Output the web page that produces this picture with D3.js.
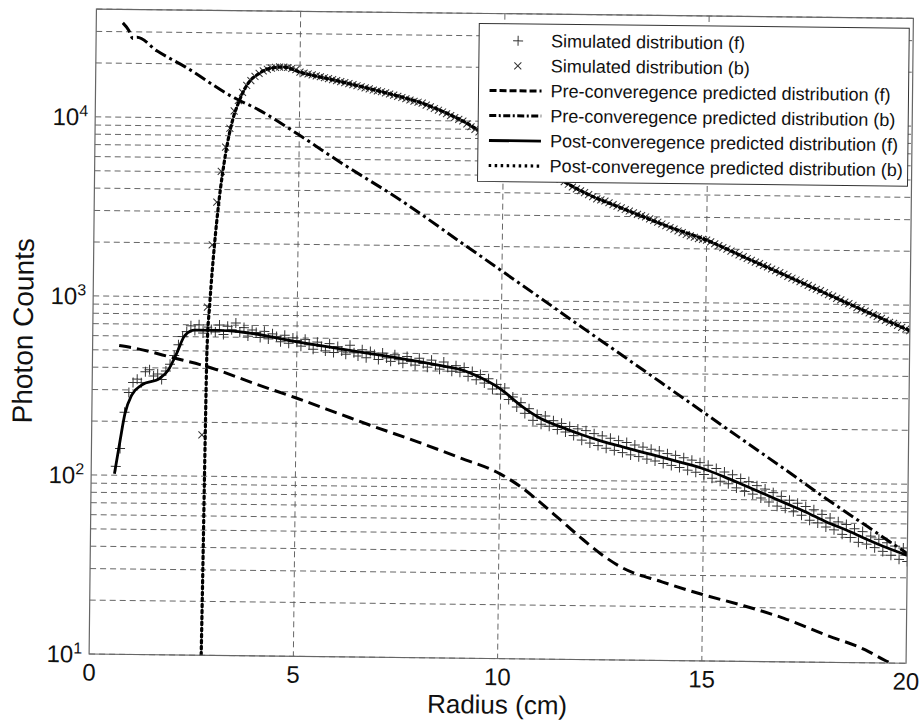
<!DOCTYPE html>
<html>
<head>
<meta charset="utf-8">
<style>
  *{margin:0;padding:0;box-sizing:border-box}
  body{background:#fff;width:923px;height:726px;overflow:hidden}
  svg{display:block}
  text{font-family:"Liberation Sans",Arial,Helvetica,sans-serif;fill:#111}
</style>
</head>
<body>
<svg id="chart"></svg>
<script src="https://cdn.jsdelivr.net/npm/d3@7/dist/d3.min.js"></script>
<script>
// ---- data ----------------------------------------------------------------
// simulated histograms, 0.1 cm bins
const BIN = 0.1;
const simFStart = 0.6;
const simF = [
  112,141,225,290,330,345,330,380,390,360,370,345,385,420,470,540,600,640,690,650,
  700,630,680,660,640,700,620,690,660,720,640,680,610,660,640,600,650,590,630,610,
  570,620,560,600,580,540,590,550,520,570,540,510,560,500,540,510,490,550,500,480,
  520,470,510,490,460,500,470,450,490,460,440,480,450,430,470,440,420,460,430,410,
  450,420,400,430,
  395,420,375,400,360,385,345,365,320,340,300,325,280,290,255,270,235,250,215,232,
  205,228,200,215,192,208,186,200,178,194,
  168,190,162,183,157,178,152,173,148,168,144,164,140,159,137,155,133,151,130,148,
  126,143,123,140,120,136,116,132,113,128,110,124,105,119,101,114,98,110,93,105,
  89,101,86,96,82,92,78,88,74,84,72,80,69,77,66,74,62,71,60,67,
  57,64,55,61,52,59,50,56,47,54,46,51,44,49,42,47,40,45,38,44,
  37
];
const simBStart = 2.7;
const simB = [
  170,880,1960,3400,5050,6900,8800,11000,12600,14000,15300,16300,17200,17900,18500,18900,19200,19400,19500,19500,
  19400,19200,18900,18300,18100,17900,17700,17500,17300,17100,16900,16700,16500,16300,16100,15900,15700,15500,15300,15100,
  14900,14700,14550,14400,14200,14000,13800,13600,13400,13200,13000,12800,12650,12500,12200,11950,11700,11450,11200,10950,
  10700,10450,10200,10000,9650,9300,9000,8700,8450,8200,7950,7750,7500,7300,7100,6900,6700,6500,6350,6150,
  6000,5800,5600,5400,5250,5100,4950,4800,4650,4500,4350,4250,4150,4050,3950,3850,3750,3700,3650,3570,
  3490,3420,3350,3280,3220,3150,3090,3040,2990,2920,2860,2800,2740,2680,2620,2570,2510,2460,2400,2360,
  2320,2280,2260,2240,2190,2140,2090,2040,2000,1950,1910,1860,1820,1780,1740,1700,1670,1630,1600,1560,
  1530,1490,1460,1420,1390,1360,1330,1300,1270,1240,1210,1190,1160,1130,1110,1080,1060,1030,1010,990,
  960,940,920,900,880,860,840,820,800,790,770,750,735,720
];

// predicted distributions, [radius, counts]
const preF = [
  [0.65,530],[1,515],[2,455],[2.8,410],[4,330],[5,277],[6,230],[6.8,198],[8,160],[9,132],
  [10,108],[10.5,92],[11,75],[11.5,60],[12,48],[12.5,39],[13,33],[14,27.5],[15,23.5],[16,20.5],
  [17,17.5],[18,14.3],[19,11.8],[19.5,10.3],[20,9.2]
];
const preB = [
  [0.65,33600],[0.8,30500],[0.9,27500],[1.0,28000],[1.5,23500],[2.2,19200],[3.35,13200],[4,11200],
  [5,8150],[6,5800],[7.5,3580],[9,2090],[10,1460],[11,1020],[12,710],[13,497],[14,347],[15,242],
  [16,169],[17,118],[18,82],[19,58],[20,41]
];
const postF = [
  [0.57,102],[0.7,157],[0.81,221],[0.97,281],[1.21,320],[1.66,351],[1.86,390],[2.06,484],[2.26,612],
  [2.5,654],[3.1,654],[3.6,644],[5.0,571],[6.14,522],[6.8,496],[7.5,470],[8.5,430],[9.0,410],[9.5,370],
  [10.0,320],[10.5,260],[11.0,220],[11.5,198],[12.0,180],[12.5,166],[13,155],[13.5,145],[14,136],
  [14.5,127],[15,118],[15.5,107],[16,96],[16.5,86],[17,77],[17.5,69],[18,61],[18.5,55],[19,49],
  [19.5,44],[20,40]
];
const postB = [
  [2.74,8],[2.76,30],[2.78,150],[2.8,500],[2.86,950],[2.95,1900],[3.05,3400],[3.2,6300],[3.35,9500],
  [3.5,12200],[3.7,15300],[4.0,17900],[4.3,19200],[4.6,19500],[5,18300],[6,16300],[7,14400],[8,12500],
  [9,10000],[10,7300],[11,5400],[12,4050],[13,3280],[14,2680],[15,2240],[16,1780],[17,1420],[18,1130],
  [19,900],[20,720]
];

const xTicks = [0, 5, 10, 15, 20];
const yTickExps = [1, 2, 3, 4];
const legendLabels = [
  'Simulated distribution (f)',
  'Simulated distribution (b)',
  'Pre-converegence predicted distribution (f)',
  'Pre-converegence predicted distribution (b)',
  'Post-converegence predicted distribution (f)',
  'Post-converegence predicted distribution (b)'
];

// ---- layout --------------------------------------------------------------
const W = 923, H = 726;
const PW = 817, PH = 645;
const CX = 501.25, CY = 336.15;   // centre of the axes box
const TILT = 0.65;                 // the whole figure sits slightly rotated
const L = CX - PW/2, T = CY - PH/2;

const styles = {
  preF:  {dash: '12,6', width: 3},
  preB:  {dash: '12,4,3,4', width: 3},
  postF: {dash: null, width: 2.8},
  postB: {dash: '2.5,3.5', width: 3.2}
};

const svg = d3.select('#chart').attr('width', W).attr('height', H);
svg.append('rect').attr('width', W).attr('height', H).attr('fill', '#fff');

const root = svg.append('g').attr('transform', `rotate(${TILT},${CX},${CY})`);
const g = root.append('g').attr('transform', `translate(${L},${T})`);

const x = d3.scaleLinear().domain([0, 20]).range([0, PW]);
const y = d3.scaleLog().domain([10, 40000]).range([PH, 0]);

g.append('defs').append('clipPath').attr('id', 'plotClip')
  .append('rect').attr('width', PW).attr('height', PH);

// grid
const grid = g.append('g').attr('stroke', '#555').attr('stroke-width', 0.9)
  .attr('stroke-dasharray', '6,4').attr('fill', 'none');
grid.selectAll('line.h').data(y.ticks()).join('line').attr('class', 'h')
  .attr('x1', 0).attr('x2', PW).attr('y1', d => y(d)).attr('y2', d => y(d));
grid.selectAll('line.v').data(xTicks.slice(1, -1)).join('line').attr('class', 'v')
  .attr('y1', 0).attr('y2', PH).attr('x1', d => x(d)).attr('x2', d => x(d));

const plot = g.append('g').attr('clip-path', 'url(#plotClip)');

// simulated markers
const plusPath = 'M-5,0H5M0,-5V5';
const crossPath = 'M-3.5,-3.5L3.5,3.5M-3.5,3.5L3.5,-3.5';
plot.append('g').selectAll('path').data(simF).join('path')
  .attr('d', plusPath).attr('stroke', '#333').attr('stroke-width', 1).attr('fill', 'none')
  .attr('transform', (d, i) => `translate(${x(simFStart + i*BIN)},${y(d)})`);
plot.append('g').selectAll('path').data(simB).join('path')
  .attr('d', crossPath).attr('stroke', '#333').attr('stroke-width', 1).attr('fill', 'none')
  .attr('transform', (d, i) => `translate(${x(simBStart + i*BIN)},${y(d)})`);

// predicted curves
const line = d3.line().x(d => x(d[0])).y(d => y(d[1])).curve(d3.curveMonotoneX);
[['preF', preF], ['preB', preB], ['postF', postF], ['postB', postB]].forEach(([k, data]) => {
  plot.append('path').datum(data).attr('d', line)
    .attr('fill', 'none').attr('stroke', '#000')
    .attr('stroke-width', styles[k].width)
    .attr('stroke-dasharray', styles[k].dash)
    .attr('stroke-linecap', k === 'postB' ? 'round' : 'butt');
});

// axes box
g.append('rect').attr('width', PW).attr('height', PH)
  .attr('fill', 'none').attr('stroke', '#666').attr('stroke-width', 1.2);

// tick labels
g.selectAll('text.xt').data(xTicks).join('text').attr('class', 'xt')
  .attr('x', d => x(d)).attr('y', PH + 26.5).attr('text-anchor', 'middle')
  .attr('font-size', 24).text(d => d);

const yt = g.selectAll('text.yt').data(yTickExps).join('text').attr('class', 'yt')
  .attr('x', -7).attr('y', d => y(Math.pow(10, d)) + 8.6)
  .attr('text-anchor', 'end').attr('font-size', 24);
yt.append('tspan').text('10');
yt.append('tspan').attr('font-size', 16).attr('dy', -9).text(d => d);

// axis titles
g.append('text').attr('x', PW/2).attr('y', PH + 55).attr('text-anchor', 'middle')
  .attr('font-size', 26).text('Radius (cm)');
g.append('text').attr('transform', `translate(-60,${PH/2}) rotate(-90)`)
  .attr('text-anchor', 'middle').attr('font-size', 28).text('Photon Counts');

// legend
const LW = 430, LH = 158;
const leg = g.append('g').attr('transform', `translate(${PW - 4 - LW},10)`);
leg.append('rect').attr('width', LW).attr('height', LH)
  .attr('fill', '#fff').attr('stroke', '#333').attr('stroke-width', 1);
const keys = ['simF', 'simB', 'preF', 'preB', 'postF', 'postB'];
keys.forEach((k, i) => {
  const ry = 17 + i*25;
  const row = leg.append('g').attr('transform', `translate(0,${ry})`);
  if (k === 'simF' || k === 'simB') {
    row.append('path').attr('d', k === 'simF' ? plusPath : crossPath)
      .attr('transform', 'translate(39,0)')
      .attr('stroke', '#333').attr('stroke-width', 1).attr('fill', 'none');
  } else {
    row.append('line').attr('x1', 11).attr('x2', 63)
      .attr('stroke', '#000').attr('stroke-width', styles[k].width)
      .attr('stroke-dasharray', k === 'preF' ? '7,3' : k === 'preB' ? '7,2.5,2,2.5' : styles[k].dash);
  }
  row.append('text').attr('x', 72).attr('y', 6).attr('font-size', 18)
    .text(legendLabels[i]);
});
</script>
</body>
</html>
